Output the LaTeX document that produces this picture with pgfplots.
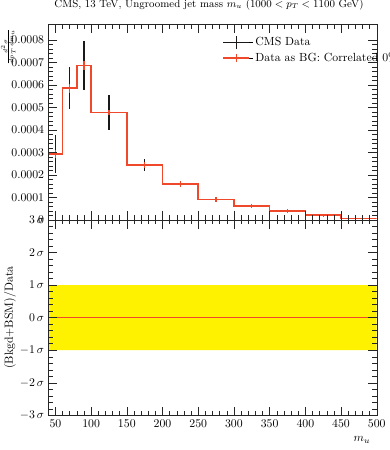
\documentclass[border=0pt]{standalone}
\usepackage{pgfplots}
\pgfplotsset{compat=1.18}
\definecolor{histred}{RGB}{240,72,42}
\begin{document}
\begin{tikzpicture}
\pgfplotsset{
  every axis/.append style={
    scale only axis, width=278.9pt, height=166.2pt,
    xmin=40, xmax=500,
    axis line style={black!85, line width=0.4pt},
    major tick length=7.5pt, minor tick length=4pt,
    every tick/.style={black!85, line width=0.4pt},
    minor x tick num=4, minor y tick num=4,
    tick align=inside, tick pos=both,
    xtick={50,100,150,200,250,300,350,400,450,500},
    axis on top,
  }
}
\begin{axis}[name=top, at={(0,0)}, anchor=south west,
  ymin=0, ymax=0.00087,
  xticklabels={},
  ytick={0,0.0001,0.0002,0.0003,0.0004,0.0005,0.0006,0.0007,0.0008},
  yticklabels={0,0.0001,0.0002,0.0003,0.0004,0.0005,0.0006,0.0007,0.0008},
  scaled y ticks=false,
  title={CMS, 13 TeV, Ungroomed jet mass $m_u$ ($1000 < p_T < 1100$ GeV)},
  title style={at={(axis description cs:0.5,1)}, anchor=center, yshift=10.5pt, xshift=-3pt,
    font=\fontsize{9}{11}\selectfont},
  ylabel={$\frac{d^2\sigma}{dp_T\,dm_u}$},
  ylabel style={at={(axis description cs:-0.122,1)}, anchor=east, font=\scriptsize},
  legend style={draw=none, fill=none, at={(axis description cs:0.532,1)}, anchor=north west,
    xshift=-3.5pt, yshift=-7pt, row sep=0.5pt, legend cell align=left,
    font=\fontsize{10}{12.2}\selectfont},
]
% CMS data with error bars
\addplot[draw=none, mark=none, forget plot,
  error bars/.cd, y dir=both, y explicit, error mark=none,
  error bar style={draw=black!90, line width=1pt}]
  coordinates {
  (50,0.000293) +- (0,0.000083)
  (70,0.000585) +- (0,0.000093)
  (90,0.000686) +- (0,0.000110)
  (125,0.000477) +- (0,0.000076)
  (175,0.000243) +- (0,0.000028)
  (225,0.000160) +- (0,0.000013)
  (275,0.000091) +- (0,0.000012)
  (325,0.000061) +- (0,0.000010)
  (375,0.000038) +- (0,0.000009)
  (425,0.000020) +- (0,0.000006)
  (475,0.000006) +- (0,0.000004)
  };
% histogram
\addplot[histred, line width=1.3pt, const plot mark left, forget plot]
  coordinates {
  (40,0.000293) (60,0.000585) (80,0.000686) (100,0.000477) (150,0.000243)
  (200,0.000160) (250,0.000091) (300,0.000061) (350,0.000038) (400,0.000020)
  (450,0.000006) (500,0.000006)
  };
% red error bars of the histogram
\addplot[draw=none, mark=none, forget plot,
  error bars/.cd, y dir=both, y explicit, error mark=none,
  error bar style={draw=histred, line width=1pt}]
  coordinates {
  (50,0.000293) +- (0,0.000018)
  (70,0.000585) +- (0,0.000020)
  (90,0.000686) +- (0,0.000020)
  (125,0.000477) +- (0,0.000012)
  (175,0.000243) +- (0,0.000012)
  (225,0.000160) +- (0,0.000013)
  (275,0.000091) +- (0,0.000012)
  (325,0.000061) +- (0,0.000010)
  (375,0.000038) +- (0,0.000009)
  (425,0.000020) +- (0,0.000006)
  (475,0.000006) +- (0,0.000004)
  };
\addlegendimage{legend image code/.code={\path (0pt,0pt) -- (25pt,0pt); \draw[black!90, line width=1pt] (0pt,0pt) -- (21.8pt,0pt); \draw[black!90, line width=1pt] (10.9pt,-5.5pt) -- (10.9pt,5.5pt);}}
\addlegendentry{CMS Data}
\addlegendimage{legend image code/.code={\path (0pt,0pt) -- (25pt,0pt); \draw[histred, line width=1.3pt] (0pt,0pt) -- (21.8pt,0pt); \draw[histred, line width=1pt] (10.9pt,-3.5pt) -- (10.9pt,3.5pt);}}
\addlegendentry{Data as BG: Correlated 0\%}
\end{axis}
\begin{axis}[name=bottom, at={(top.south west)}, anchor=north west,
  ymin=-3, ymax=3,
  ytick={-3,-2,-1,0,1,2,3},
  yticklabels={$-3\,\sigma$,$-2\,\sigma$,$-1\,\sigma$,$0\,\sigma$,$1\,\sigma$,$2\,\sigma$,$3\,\sigma$},
  xticklabels={50,100,150,200,250,300,350,400,450,500},
  xlabel={$m_u$},
  xlabel style={at={(axis description cs:1,0)}, anchor=east, yshift=-21pt, xshift=-2pt},
  ylabel={(Bkgd+BSM)/Data},
  ylabel style={at={(axis description cs:-0.1165,0.5)}, anchor=center},
]
\addplot[draw=none, fill=yellow] coordinates {(40,-1) (500,-1) (500,1) (40,1) (40,-1)};
\addplot[histred, line width=1.3pt] coordinates {(40,0) (500,0)};
\end{axis}
\pgfresetboundingbox
\path[use as bounding box] (-41pt,-195.5pt) rectangle (289.7pt,186.6pt);
\end{tikzpicture}
\end{document}
